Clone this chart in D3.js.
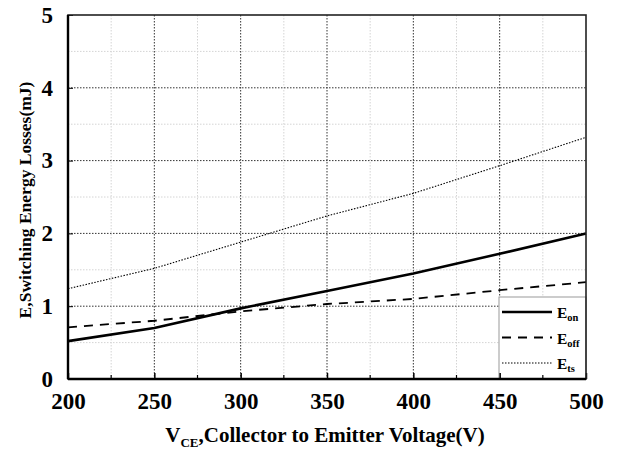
<!DOCTYPE html>
<html>
<head>
<meta charset="utf-8">
<script src="https://cdn.jsdelivr.net/npm/d3@7"></script>
<style>
  body { margin: 0; background: #fff; }
  svg { display: block; font-family: "Liberation Serif", "DejaVu Serif", serif; font-weight: bold; }
  svg text { font-family: "Liberation Serif", "DejaVu Serif", serif; }
</style>
</head>
<body>
<div id="chart"></div>
<script>
// collector-emitter voltage (V)
const voltages = [200, 250, 300, 350, 400, 450, 500];

// switching energy (mJ)
const eOn  = [0.52, 0.70, 0.97, 1.21, 1.45, 1.72, 2.00];
const eOff = [0.71, 0.80, 0.93, 1.03, 1.10, 1.22, 1.33];
const eTs  = [1.24, 1.52, 1.88, 2.24, 2.55, 2.93, 3.32];

const xTicks = [200, 250, 300, 350, 400, 450, 500];
const yTicks = [0, 1, 2, 3, 4, 5];

const series = [
  { name: 'on',  values: eOn,  width: 2.6, dash: null },
  { name: 'off', values: eOff, width: 1.8, dash: '9,7' },
  { name: 'ts',  values: eTs,  width: 1.1, dash: '1.5,1.5' }
];

const W = 618, H = 454;
const PLOT_LEFT = 68, PLOT_RIGHT = 586, PLOT_TOP = 15, PLOT_BOT = 379;

const svg = d3.select('#chart').append('svg')
    .attr('width', W)
    .attr('height', H);

const x = d3.scaleLinear().domain([200, 500]).range([PLOT_LEFT, PLOT_RIGHT]);
const y = d3.scaleLinear().domain([0, 5]).range([PLOT_BOT, PLOT_TOP]);

// minor grid
const minorX = d3.range(225, 500, 50);
const minorY = d3.range(0.5, 5, 1);
svg.append('g')
  .selectAll('line')
  .data(minorX)
  .enter().append('line')
    .attr('x1', d => x(d)).attr('x2', d => x(d))
    .attr('y1', PLOT_TOP).attr('y2', PLOT_BOT)
    .attr('stroke', '#d4d4d4').attr('stroke-dasharray', '1.5,1.5');
svg.append('g')
  .selectAll('line')
  .data(minorY)
  .enter().append('line')
    .attr('x1', PLOT_LEFT).attr('x2', PLOT_RIGHT)
    .attr('y1', d => y(d)).attr('y2', d => y(d))
    .attr('stroke', '#d4d4d4').attr('stroke-dasharray', '1.5,1.5');

// major grid
svg.append('g')
  .selectAll('line')
  .data(xTicks.slice(1, -1))
  .enter().append('line')
    .attr('x1', d => x(d)).attr('x2', d => x(d))
    .attr('y1', PLOT_TOP).attr('y2', PLOT_BOT)
    .attr('stroke', '#333').attr('stroke-dasharray', '1.5,1.5');
svg.append('g')
  .selectAll('line')
  .data(yTicks.slice(1, -1))
  .enter().append('line')
    .attr('x1', PLOT_LEFT).attr('x2', PLOT_RIGHT)
    .attr('y1', d => y(d)).attr('y2', d => y(d))
    .attr('stroke', '#333').attr('stroke-dasharray', '1.5,1.5');

// curves
const line = d3.line()
    .x((d, i) => x(voltages[i]))
    .y(d => y(d));

series.forEach(s => {
  svg.append('path')
      .datum(s.values)
      .attr('d', line)
      .attr('fill', 'none')
      .attr('stroke', '#000')
      .attr('stroke-width', s.width)
      .attr('stroke-dasharray', s.dash);
});

// legend box
const lgX = 499, lgY = 297;
svg.append('rect')
    .attr('x', lgX).attr('y', lgY)
    .attr('width', PLOT_RIGHT - lgX).attr('height', PLOT_BOT - lgY)
    .attr('fill', '#fff')
    .attr('stroke', '#999').attr('stroke-width', 1);

series.forEach((s, i) => {
  const ly = 312 + i * 25.5;
  svg.append('line')
      .attr('x1', lgX + 3).attr('x2', lgX + 53)
      .attr('y1', ly).attr('y2', ly)
      .attr('stroke', '#000')
      .attr('stroke-width', s.width)
      .attr('stroke-dasharray', s.dash);
  const t = svg.append('text')
      .attr('x', lgX + 58).attr('y', ly + 6)
      .attr('font-size', 15.5);
  t.append('tspan').text('E');
  t.append('tspan').attr('dy', 3).attr('font-size', 10.5).text(s.name);
});

// axes
const xAxis = d3.axisBottom(x)
    .tickValues(xTicks)
    .tickSize(-6)
    .tickPadding(14)
    .tickFormat(d3.format('d'));
const gx = svg.append('g')
    .attr('transform', `translate(0,${PLOT_BOT})`)
    .call(xAxis);
gx.select('.domain').remove();
gx.selectAll('.tick line').attr('stroke-width', 1.5);
gx.selectAll('text')
    .style('font-family', '"Liberation Serif", serif')
    .style('font-size', '23px');

gx.selectAll('line.minor')
  .data(minorX)
  .enter().append('line')
    .attr('class', 'minor')
    .attr('x1', d => x(d)).attr('x2', d => x(d))
    .attr('y1', 0).attr('y2', -4)
    .attr('stroke', '#000').attr('stroke-width', 1.2);

const yAxis = d3.axisLeft(y)
    .tickValues(yTicks)
    .tickSize(-5)
    .tickPadding(15)
    .tickFormat(d3.format('d'));
const gy = svg.append('g')
    .attr('transform', `translate(${PLOT_LEFT},0)`)
    .call(yAxis);
gy.select('.domain').remove();
gy.selectAll('text')
    .style('font-family', '"Liberation Serif", serif')
    .style('font-size', '23px');

// frame
svg.append('rect')
    .attr('x', PLOT_LEFT).attr('y', PLOT_TOP)
    .attr('width', PLOT_RIGHT - PLOT_LEFT).attr('height', PLOT_BOT - PLOT_TOP)
    .attr('fill', 'none')
    .attr('stroke', '#222').attr('stroke-width', 1.6);
svg.append('line')
    .attr('x1', PLOT_LEFT).attr('x2', PLOT_RIGHT)
    .attr('y1', PLOT_BOT).attr('y2', PLOT_BOT)
    .attr('stroke', '#000').attr('stroke-width', 2.4);
svg.append('line')
    .attr('x1', PLOT_LEFT).attr('x2', PLOT_LEFT)
    .attr('y1', PLOT_TOP).attr('y2', PLOT_BOT)
    .attr('stroke', '#000').attr('stroke-width', 2.4);

// axis titles
const xt = svg.append('text')
    .attr('x', 325)
    .attr('y', 442)
    .attr('text-anchor', 'middle')
    .attr('font-size', 21);
xt.append('tspan').text('V');
xt.append('tspan').attr('dy', 5).attr('font-size', 13).text('CE');
xt.append('tspan').attr('dy', -5).text(',Collector to Emitter Voltage(V)');

svg.append('text')
    .attr('transform', `translate(31,200) rotate(-90)`)
    .attr('text-anchor', 'middle')
    .attr('font-size', 17.5)
    .text('E,Switching Energy Losses(mJ)');
</script>
</body>
</html>
